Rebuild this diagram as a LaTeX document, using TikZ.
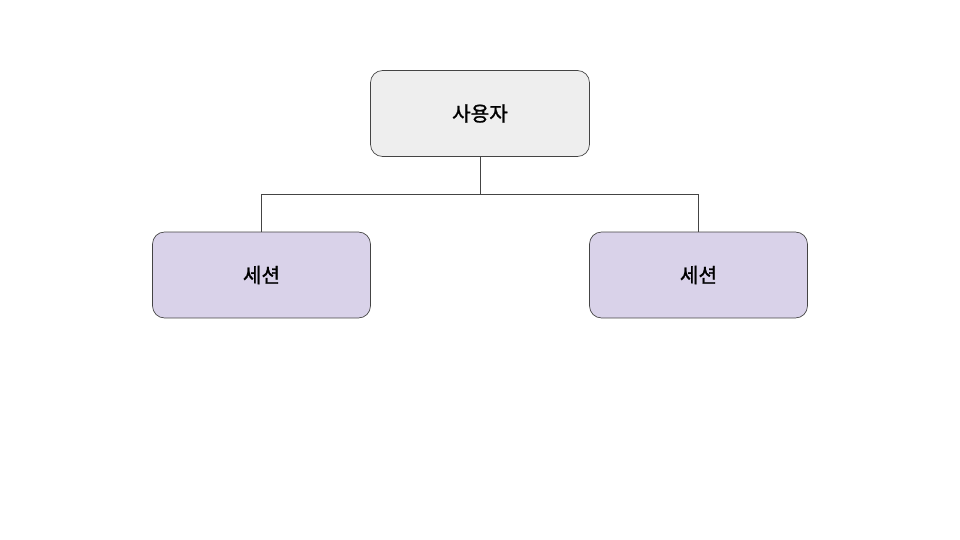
\documentclass[tikz,border=0pt]{standalone}
\usepackage{fontspec}
\newfontfamily\krfont{Noto Sans CJK KR}[FakeBold=1.2]
\definecolor{boxgray}{HTML}{EEEEEE}
\definecolor{boxlav}{HTML}{D9D2E9}
\definecolor{edgegray}{HTML}{444444}
\begin{document}
\begin{tikzpicture}[x=0.02cm, y=-0.02cm]

	\tikzstyle{box_user} = [rectangle, rounded corners=0.24cm, draw=edgegray, fill=boxgray, minimum width=4.38cm, minimum height=1.72cm, font=\krfont\fontsize{11.5}{13}\selectfont]
	\tikzstyle{box_session} = [box_user, fill=boxlav, minimum width=4.36cm]
	\tikzstyle{link} = [draw=edgegray, line width=0.5pt]

	\useasboundingbox (0,0) rectangle (960,540);
%------------------------------------------------------------
	\node[box_user] (user) at (480,113.5) {사용자};
%------------------------------------------------------------
	\node[box_session] (s1) at (261.5,275) {세션};
	\node[box_session] (s2) at (698.5,275) {세션};
%------------------------------------------------------------
	\coordinate (bus) at (480,194);

	\path[link] (user.south) -- (bus);
	\path[link] (bus) -| (s1.north);
	\path[link] (bus) -| (s2.north);

\end{tikzpicture}
\end{document}
